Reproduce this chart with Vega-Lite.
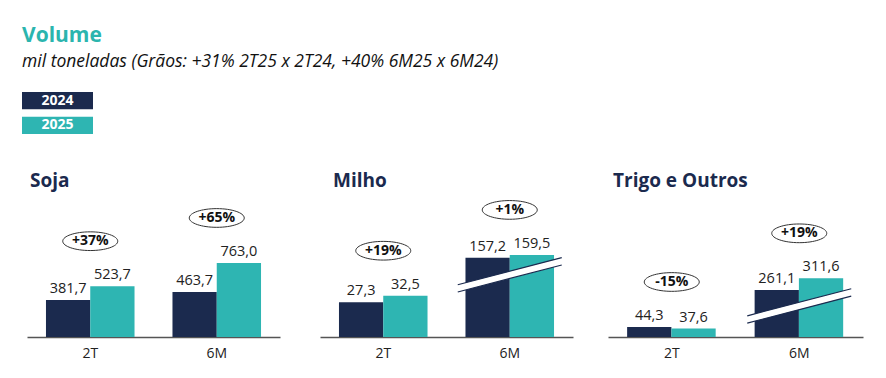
{
  "$schema": "https://vega.github.io/schema/vega-lite/v6.json",
  "padding": {"left": 22, "top": 24, "right": 0, "bottom": 0},
  "title": {
    "text": "Volume",
    "subtitle": "mil toneladas (Grãos: +31% 2T25 x 2T24, +40% 6M25 x 6M24)",
    "anchor": "start",
    "font": "Open Sans",
    "fontSize": 21,
    "fontWeight": "bold",
    "color": "#2BB5AE",
    "subtitleFont": "Open Sans",
    "subtitleFontSize": 17.5,
    "subtitleFontStyle": "italic",
    "subtitleColor": "#111111",
    "subtitlePadding": 7,
    "offset": 22
  },
  "datasets": {
    "vol": [
      {"panel": "Soja", "period": "2T", "year": "2024", "value": 381.7},
      {"panel": "Soja", "period": "2T", "year": "2025", "value": 523.7, "change": 0.372},
      {"panel": "Soja", "period": "6M", "year": "2024", "value": 463.7},
      {"panel": "Soja", "period": "6M", "year": "2025", "value": 763.0, "change": 0.6455},
      {"panel": "Milho", "period": "2T", "year": "2024", "value": 27.3},
      {"panel": "Milho", "period": "2T", "year": "2025", "value": 32.5, "change": 0.1905},
      {"panel": "Milho", "period": "6M", "year": "2024", "value": 157.2},
      {"panel": "Milho", "period": "6M", "year": "2025", "value": 159.5, "change": 0.0146},
      {"panel": "Trigo e Outros", "period": "2T", "year": "2024", "value": 44.3},
      {"panel": "Trigo e Outros", "period": "2T", "year": "2025", "value": 37.6, "change": -0.1512},
      {"panel": "Trigo e Outros", "period": "6M", "year": "2024", "value": 261.1},
      {"panel": "Trigo e Outros", "period": "6M", "year": "2025", "value": 311.6, "change": 0.1934}
    ]
  },
  "spacing": 38,
  "vconcat": [
    {
      "width": 71,
      "height": 42,
      "data": {"name": "vol"},
      "transform": [{"aggregate": [{"op": "count", "as": "n"}], "groupby": ["year"]}],
      "encoding": {
        "y": {"field": "year", "type": "nominal", "scale": {"paddingInner": 0.3, "paddingOuter": 0}, "axis": null}
      },
      "layer": [
        {
          "mark": {"type": "rect"},
          "encoding": {
            "color": {"field": "year", "type": "nominal", "scale": {"domain": ["2024", "2025"], "range": ["#1B2A4E", "#2EB5B2"]}, "legend": null}
          }
        },
        {
          "mark": {"type": "text", "color": "white", "fontWeight": "bold", "fontSize": 14, "font": "Open Sans", "baseline": "middle"},
          "encoding": {"text": {"field": "year"}}
        }
      ]
    },
    {
      "spacing": 40,
      "hconcat": [
        {
          "width": 258,
          "height": 140,
          "title": {"text": "Soja", "dx": 8},
          "data": {"name": "vol"},
          "transform": [{"filter": "datum.panel === 'Soja'"}],
          "encoding": {
            "x": {"field": "period", "type": "nominal", "sort": ["2T", "6M"], "scale": {"range": [5, 258], "paddingInner": 0.3, "paddingOuter": 0.15}},
            "y": {"field": "value", "type": "quantitative", "scale": {"domain": [0, 1443], "nice": false, "zero": false}, "axis": null}
          },
          "layer": [
            {
              "mark": {"type": "bar"},
              "encoding": {
                "xOffset": {"field": "year", "type": "nominal", "scale": {"paddingInner": 0, "paddingOuter": 0}},
                "color": {"field": "year", "type": "nominal", "scale": {"domain": ["2024", "2025"], "range": ["#1B2A4E", "#2EB5B2"]}, "legend": null}
              }
            },
            {
              "mark": {"type": "text", "baseline": "bottom", "dy": -4, "fontSize": 14.5, "color": "#222222"},
              "encoding": {
                "xOffset": {"field": "year", "type": "nominal", "scale": {"paddingInner": 0, "paddingOuter": 0}},
                "text": {"field": "value", "type": "quantitative", "format": ".1f"}
              }
            },
            {
              "transform": [{"aggregate": [{"op": "max", "field": "value", "as": "value"}, {"op": "max", "field": "change", "as": "change"}], "groupby": ["period"]}],
              "mark": {"type": "point", "shape": "M-1,0A1,0.34,0,1,1,1,0A1,0.34,0,1,1,-1,0Z", "size": 3025, "filled": true, "fill": "white", "stroke": "#333333", "strokeWidth": 1, "opacity": 1, "yOffset": -45}
            },
            {
              "transform": [{"aggregate": [{"op": "max", "field": "value", "as": "value"}, {"op": "max", "field": "change", "as": "change"}], "groupby": ["period"]}],
              "mark": {"type": "text", "fontWeight": "bold", "fontSize": 14, "color": "#111111", "baseline": "middle", "yOffset": -45},
              "encoding": {"text": {"field": "change", "type": "quantitative", "format": "+.0%"}}
            }
          ]
        },
        {
          "width": 253,
          "height": 140,
          "title": {"text": "Milho", "dx": 13},
          "data": {"name": "vol"},
          "transform": [{"filter": "datum.panel === 'Milho'"}],
          "encoding": {
            "x": {"field": "period", "type": "nominal", "sort": ["2T", "6M"], "scale": {"paddingInner": 0.3, "paddingOuter": 0.15}},
            "y": {"field": "value", "type": "quantitative", "scale": {"domain": [0, 40, 150, 205], "range": [140, 89.2, 70, 0], "nice": false, "zero": false}, "axis": null}
          },
          "layer": [
            {
              "mark": {"type": "bar"},
              "encoding": {
                "xOffset": {"field": "year", "type": "nominal", "scale": {"paddingInner": 0, "paddingOuter": 0}},
                "color": {"field": "year", "type": "nominal", "scale": {"domain": ["2024", "2025"], "range": ["#1B2A4E", "#2EB5B2"]}, "legend": null}
              }
            },
            {
              "transform": [{"filter": "datum.period === '6M'"}, {"aggregate": [{"op": "min", "field": "value", "as": "value"}], "groupby": ["period"]}],
              "mark": {"type": "point", "shape": "M-1,0.33L1,-0.19L1,-0.33L-1,0.19Z", "size": 10816, "filled": true, "fill": "white", "strokeWidth": 0, "opacity": 1, "yOffset": 17}
            },
            {
              "transform": [{"filter": "datum.period === '6M'"}, {"aggregate": [{"op": "min", "field": "value", "as": "value"}], "groupby": ["period"]}],
              "mark": {"type": "point", "shape": "M-1,0.33L1,-0.19M-1,0.19L1,-0.33", "size": 10816, "filled": false, "stroke": "#1B2A4E", "strokeWidth": 1.2, "opacity": 1, "yOffset": 17}
            },
            {
              "mark": {"type": "text", "baseline": "bottom", "dy": -4, "fontSize": 14.5, "color": "#222222"},
              "encoding": {
                "xOffset": {"field": "year", "type": "nominal", "scale": {"paddingInner": 0, "paddingOuter": 0}},
                "text": {"field": "value", "type": "quantitative", "format": ".1f"}
              }
            },
            {
              "transform": [{"aggregate": [{"op": "max", "field": "value", "as": "value"}, {"op": "max", "field": "change", "as": "change"}], "groupby": ["period"]}],
              "mark": {"type": "point", "shape": "M-1,0A1,0.34,0,1,1,1,0A1,0.34,0,1,1,-1,0Z", "size": 3025, "filled": true, "fill": "white", "stroke": "#333333", "strokeWidth": 1, "opacity": 1, "yOffset": -45}
            },
            {
              "transform": [{"aggregate": [{"op": "max", "field": "value", "as": "value"}, {"op": "max", "field": "change", "as": "change"}], "groupby": ["period"]}],
              "mark": {"type": "text", "fontWeight": "bold", "fontSize": 14, "color": "#111111", "baseline": "middle", "yOffset": -45},
              "encoding": {"text": {"field": "change", "type": "quantitative", "format": "+.0%"}}
            }
          ]
        },
        {
          "width": 250,
          "height": 140,
          "title": {"text": "Trigo e Outros", "dx": 0},
          "data": {"name": "vol"},
          "transform": [{"filter": "datum.panel === 'Trigo e Outros'"}],
          "encoding": {
            "x": {"field": "period", "type": "nominal", "sort": ["2T", "6M"], "scale": {"range": [-5, 250], "paddingInner": 0.3, "paddingOuter": 0.15}},
            "y": {"field": "value", "type": "quantitative", "scale": {"domain": [0, 100, 250, 665], "range": [140, 117.4, 95.5, 0], "nice": false, "zero": false}, "axis": null}
          },
          "layer": [
            {
              "mark": {"type": "bar"},
              "encoding": {
                "xOffset": {"field": "year", "type": "nominal", "scale": {"paddingInner": 0, "paddingOuter": 0}},
                "color": {"field": "year", "type": "nominal", "scale": {"domain": ["2024", "2025"], "range": ["#1B2A4E", "#2EB5B2"]}, "legend": null}
              }
            },
            {
              "transform": [{"filter": "datum.period === '6M'"}, {"aggregate": [{"op": "min", "field": "value", "as": "value"}], "groupby": ["period"]}],
              "mark": {"type": "point", "shape": "M-1,0.33L1,-0.19L1,-0.33L-1,0.19Z", "size": 10816, "filled": true, "fill": "white", "strokeWidth": 0, "opacity": 1, "yOffset": 16}
            },
            {
              "transform": [{"filter": "datum.period === '6M'"}, {"aggregate": [{"op": "min", "field": "value", "as": "value"}], "groupby": ["period"]}],
              "mark": {"type": "point", "shape": "M-1,0.33L1,-0.19M-1,0.19L1,-0.33", "size": 10816, "filled": false, "stroke": "#1B2A4E", "strokeWidth": 1.2, "opacity": 1, "yOffset": 16}
            },
            {
              "mark": {"type": "text", "baseline": "bottom", "dy": -4, "fontSize": 14.5, "color": "#222222"},
              "encoding": {
                "xOffset": {"field": "year", "type": "nominal", "scale": {"paddingInner": 0, "paddingOuter": 0}},
                "text": {"field": "value", "type": "quantitative", "format": ".1f"}
              }
            },
            {
              "transform": [{"aggregate": [{"op": "max", "field": "value", "as": "value"}, {"op": "max", "field": "change", "as": "change"}], "groupby": ["period"]}],
              "mark": {"type": "point", "shape": "M-1,0A1,0.34,0,1,1,1,0A1,0.34,0,1,1,-1,0Z", "size": 3025, "filled": true, "fill": "white", "stroke": "#333333", "strokeWidth": 1, "opacity": 1, "yOffset": -45}
            },
            {
              "transform": [{"aggregate": [{"op": "max", "field": "value", "as": "value"}, {"op": "max", "field": "change", "as": "change"}], "groupby": ["period"]}],
              "mark": {"type": "text", "fontWeight": "bold", "fontSize": 14, "color": "#111111", "baseline": "middle", "yOffset": -45},
              "encoding": {"text": {"field": "change", "type": "quantitative", "format": "+.0%"}}
            }
          ]
        }
      ]
    }
  ],
  "config": {
    "font": "Open Sans",
    "locale": {"number": {"decimal": ",", "thousands": ".", "grouping": [3], "currency": ["", ""], "minus": "-"}},
    "view": {"stroke": null},
    "axisX": {
      "title": null,
      "ticks": false,
      "labelAngle": 0,
      "labelFontSize": 14,
      "labelColor": "#222222",
      "labelFont": "Open Sans",
      "labelPadding": 9,
      "domainColor": "#555555",
      "domainWidth": 1.5,
      "grid": false
    },
    "title": {
      "anchor": "start",
      "font": "Open Sans",
      "fontSize": 19,
      "fontWeight": "bold",
      "color": "#1B2A4E",
      "offset": 6
    }
  }
}
